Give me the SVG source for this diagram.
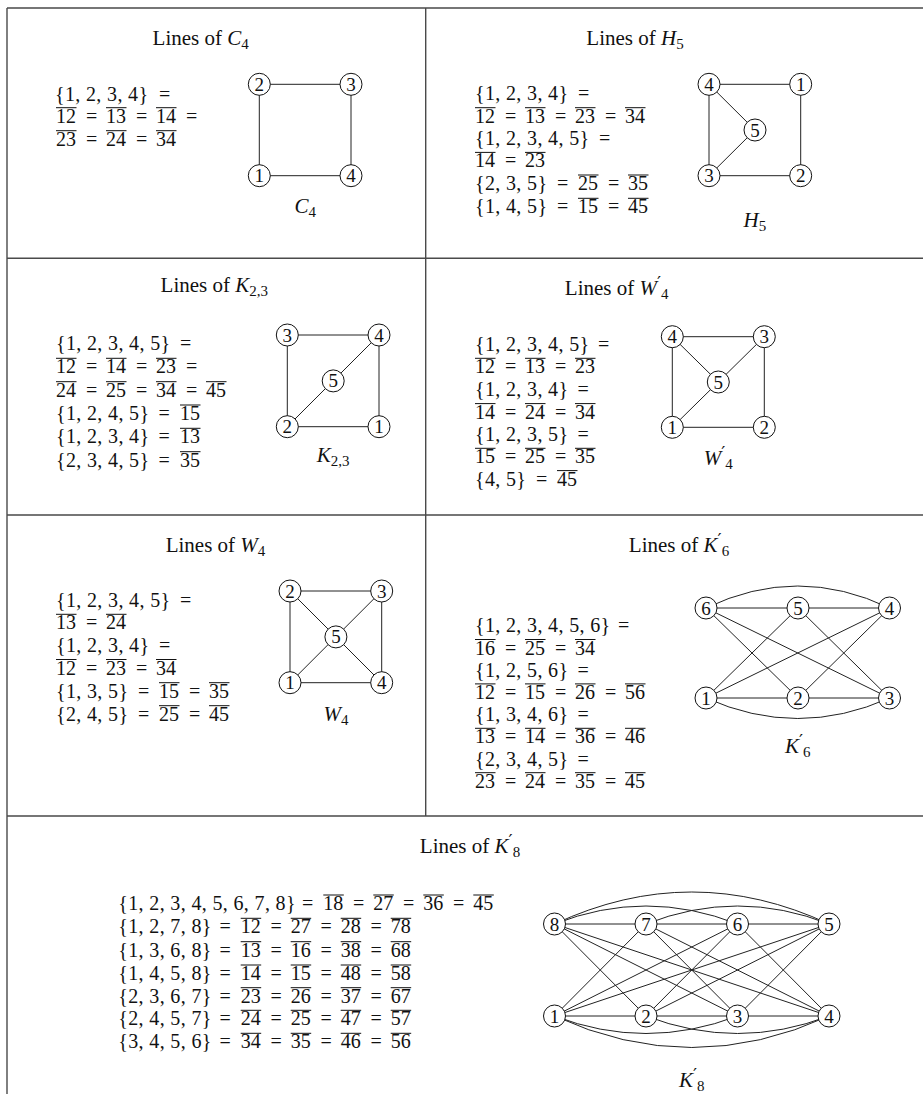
<svg xmlns="http://www.w3.org/2000/svg" width="923" height="1094" viewBox="0 0 923 1094">
<style>
text { font-family: "Liberation Serif", "Times New Roman", serif; font-size: 20px; fill: #111; }
.ttl { text-anchor: middle; font-size: 21px; }
.it { font-style: italic; }
.sub { font-size: 15px; }
.pr { font-family: "DejaVu Sans", sans-serif; font-size: 18px; }
.b { letter-spacing: 0.35px; }
.ol { stroke: #111; stroke-width: 1; fill: none; }
.e { stroke: #222; stroke-width: 1; fill: none; }
.n circle { fill: #fff; stroke: #111; stroke-width: 1; }
.n text { font-size: 19px; text-anchor: middle; }
.grid { stroke: #4a4a4a; stroke-width: 1.4; fill: none; }
</style>
<rect width="923" height="1094" fill="#fff"/>
<g id="table">
<path class="grid" d="M7 8H923M7 258.3H923M7 515H923M7 816H923M7 8V1094M425.7 8V816"/>
</g>

<!-- Cell C4 -->
<g id="cell-c4">
<text class="ttl" x="200.7" y="45">Lines of <tspan class="it">C</tspan><tspan class="sub" dy="4">4</tspan></text>
<text y="100.5"><tspan class="b" x="55">{1, 2, 3, 4}</tspan><tspan x="159">=</tspan></text>
<text y="122.7"><tspan x="56">12</tspan><tspan x="86">=</tspan><tspan x="106">13</tspan><tspan x="136">=</tspan><tspan x="156">14</tspan><tspan x="186">=</tspan></text>
<text y="145.7"><tspan x="56">23</tspan><tspan x="86">=</tspan><tspan x="106">24</tspan><tspan x="136">=</tspan><tspan x="156">34</tspan></text>
<path class="ol" d="M56 107.7h20.5M106 107.7h20.5M156 107.7h20.5M56 130.7h20.5M106 130.7h20.5M156 130.7h20.5"/>
<text class="ttl" x="305.2" y="213.3"><tspan class="it">C</tspan><tspan class="sub" dy="4">4</tspan></text>
</g>
<g id="c4-edges">
<path class="e" d="M259.3 84.3H351V175.7H259.3Z"/>
</g>
<g id="c4-n1" class="n"><circle cx="259.3" cy="175.7" r="11"/><text x="259.3" y="182.2">1</text></g>
<g id="c4-n2" class="n"><circle cx="259.3" cy="84.3" r="11"/><text x="259.3" y="90.8">2</text></g>
<g id="c4-n3" class="n"><circle cx="351" cy="84.3" r="11"/><text x="351" y="90.8">3</text></g>
<g id="c4-n4" class="n"><circle cx="351" cy="175.7" r="11"/><text x="351" y="182.2">4</text></g>

<!-- Cell H5 -->
<g id="cell-h5">
<text class="ttl" x="635" y="45">Lines of <tspan class="it">H</tspan><tspan class="sub" dy="4">5</tspan></text>
<text y="100.4"><tspan class="b" x="475">{1, 2, 3, 4}</tspan><tspan x="578">=</tspan></text>
<text y="122.7"><tspan x="475">12</tspan><tspan x="505">=</tspan><tspan x="525">13</tspan><tspan x="555">=</tspan><tspan x="575">23</tspan><tspan x="605">=</tspan><tspan x="625">34</tspan></text>
<text y="145.2"><tspan class="b" x="475">{1, 2, 3, 4, 5}</tspan><tspan x="599">=</tspan></text>
<text y="167.4"><tspan x="475">14</tspan><tspan x="505">=</tspan><tspan x="525">23</tspan></text>
<text y="190"><tspan class="b" x="475">{2, 3, 5}</tspan><tspan x="557">=</tspan><tspan x="578">25</tspan><tspan x="608">=</tspan><tspan x="628">35</tspan></text>
<text y="213.3"><tspan class="b" x="475">{1, 4, 5}</tspan><tspan x="557">=</tspan><tspan x="578">15</tspan><tspan x="608">=</tspan><tspan x="628">45</tspan></text>
<path class="ol" d="M475 107.7h20.5M525 107.7h20.5M575 107.7h20.5M625 107.7h20.5M475 152.4h20.5M525 152.4h20.5M578 175h20.5M628 175h20.5M578 198.3h20.5M628 198.3h20.5"/>
<text class="ttl" x="754.9" y="226.7"><tspan class="it">H</tspan><tspan class="sub" dy="4">5</tspan></text>
</g>
<g id="h5-edges">
<path class="e" d="M709 84.3H800.7V175.7H709ZM709 84.3L755 130L709 175.7"/>
</g>
<g id="h5-n1" class="n"><circle cx="800.7" cy="84.3" r="11"/><text x="800.7" y="90.8">1</text></g>
<g id="h5-n2" class="n"><circle cx="800.7" cy="175.7" r="11"/><text x="800.7" y="182.2">2</text></g>
<g id="h5-n3" class="n"><circle cx="709" cy="175.7" r="11"/><text x="709" y="182.2">3</text></g>
<g id="h5-n4" class="n"><circle cx="709" cy="84.3" r="11"/><text x="709" y="90.8">4</text></g>
<g id="h5-n5" class="n"><circle cx="755" cy="130" r="11"/><text x="755" y="136.5">5</text></g>

<!-- Cell K2,3 -->
<g id="cell-k23">
<text class="ttl" x="214.3" y="291.7">Lines of <tspan class="it">K</tspan><tspan class="sub" dy="4">2,3</tspan></text>
<text y="350"><tspan class="b" x="56">{1, 2, 3, 4, 5}</tspan><tspan x="180">=</tspan></text>
<text y="373.3"><tspan x="56">12</tspan><tspan x="86">=</tspan><tspan x="106">14</tspan><tspan x="136">=</tspan><tspan x="156">23</tspan><tspan x="186">=</tspan></text>
<text y="396.7"><tspan x="56">24</tspan><tspan x="86">=</tspan><tspan x="106">25</tspan><tspan x="136">=</tspan><tspan x="156">34</tspan><tspan x="186">=</tspan><tspan x="206">45</tspan></text>
<text y="420"><tspan class="b" x="56">{1, 2, 4, 5}</tspan><tspan x="158.5">=</tspan><tspan x="180">15</tspan></text>
<text y="443.3"><tspan class="b" x="56">{1, 2, 3, 4}</tspan><tspan x="158.5">=</tspan><tspan x="180">13</tspan></text>
<text y="466.7"><tspan class="b" x="56">{2, 3, 4, 5}</tspan><tspan x="158.5">=</tspan><tspan x="180">35</tspan></text>
<path class="ol" d="M56 358.3h20.5M106 358.3h20.5M156 358.3h20.5M56 381.7h20.5M106 381.7h20.5M156 381.7h20.5M206 381.7h20.5M180 405h20.5M180 428.3h20.5M180 451.7h20.5"/>
<text class="ttl" x="333.2" y="461.7"><tspan class="it">K</tspan><tspan class="sub" dy="4">2,3</tspan></text>
</g>
<g id="k23-edges">
<path class="e" d="M287.3 335H379V426.7H287.3ZM379 335L287.3 426.7"/>
</g>
<g id="k23-n1" class="n"><circle cx="379" cy="426.7" r="11"/><text x="379" y="433.2">1</text></g>
<g id="k23-n2" class="n"><circle cx="287.3" cy="426.7" r="11"/><text x="287.3" y="433.2">2</text></g>
<g id="k23-n3" class="n"><circle cx="287.3" cy="335" r="11"/><text x="287.3" y="341.5">3</text></g>
<g id="k23-n4" class="n"><circle cx="379" cy="335" r="11"/><text x="379" y="341.5">4</text></g>
<g id="k23-n5" class="n"><circle cx="333.2" cy="380.9" r="11"/><text x="333.2" y="387.4">5</text></g>

<!-- Cell W4' -->
<g id="cell-w4p">
<text class="ttl" x="616.7" y="295">Lines of <tspan class="it">W</tspan><tspan class="pr" dy="-6">′</tspan><tspan class="sub" dy="10">4</tspan></text>
<text y="351"><tspan class="b" x="475">{1, 2, 3, 4, 5}</tspan><tspan x="598">=</tspan></text>
<text y="373.3"><tspan x="475">12</tspan><tspan x="505">=</tspan><tspan x="525">13</tspan><tspan x="555">=</tspan><tspan x="575">23</tspan></text>
<text y="396.3"><tspan class="b" x="475">{1, 2, 3, 4}</tspan><tspan x="577.5">=</tspan></text>
<text y="418.6"><tspan x="475">14</tspan><tspan x="505">=</tspan><tspan x="525">24</tspan><tspan x="555">=</tspan><tspan x="575">34</tspan></text>
<text y="441"><tspan class="b" x="475">{1, 2, 3, 5}</tspan><tspan x="577.5">=</tspan></text>
<text y="463.3"><tspan x="475">15</tspan><tspan x="505">=</tspan><tspan x="525">25</tspan><tspan x="555">=</tspan><tspan x="575">35</tspan></text>
<text y="485.6"><tspan class="b" x="475">{4, 5}</tspan><tspan x="536">=</tspan><tspan x="557">45</tspan></text>
<path class="ol" d="M475 358.3h20.5M525 358.3h20.5M575 358.3h20.5M475 403.6h20.5M525 403.6h20.5M575 403.6h20.5M475 448.3h20.5M525 448.3h20.5M575 448.3h20.5M557 470.6h20.5"/>
<text class="ttl" x="718.3" y="465"><tspan class="it">W</tspan><tspan class="pr" dy="-6">′</tspan><tspan class="sub" dy="10">4</tspan></text>
</g>
<g id="w4p-edges">
<path class="e" d="M672.3 336.7H764.3V427.3H672.3ZM672.3 336.7L718.3 382M764.3 336.7L672.3 427.3"/>
</g>
<g id="w4p-n1" class="n"><circle cx="672.3" cy="427.3" r="11"/><text x="672.3" y="433.8">1</text></g>
<g id="w4p-n2" class="n"><circle cx="764.3" cy="427.3" r="11"/><text x="764.3" y="433.8">2</text></g>
<g id="w4p-n3" class="n"><circle cx="764.3" cy="336.7" r="11"/><text x="764.3" y="343.2">3</text></g>
<g id="w4p-n4" class="n"><circle cx="672.3" cy="336.7" r="11"/><text x="672.3" y="343.2">4</text></g>
<g id="w4p-n5" class="n"><circle cx="718.3" cy="382" r="11"/><text x="718.3" y="388.5">5</text></g>

<!-- Cell W4 -->
<g id="cell-w4">
<text class="ttl" x="215.5" y="551.7">Lines of <tspan class="it">W</tspan><tspan class="sub" dy="4">4</tspan></text>
<text y="606.7"><tspan class="b" x="56">{1, 2, 3, 4, 5}</tspan><tspan x="180">=</tspan></text>
<text y="629.3"><tspan x="56">13</tspan><tspan x="86">=</tspan><tspan x="106">24</tspan></text>
<text y="652.2"><tspan class="b" x="56">{1, 2, 3, 4}</tspan><tspan x="159">=</tspan></text>
<text y="674.5"><tspan x="56">12</tspan><tspan x="86">=</tspan><tspan x="106">23</tspan><tspan x="136">=</tspan><tspan x="156">34</tspan></text>
<text y="697.7"><tspan class="b" x="56">{1, 3, 5}</tspan><tspan x="138">=</tspan><tspan x="159">15</tspan><tspan x="189">=</tspan><tspan x="209">35</tspan></text>
<text y="720.7"><tspan class="b" x="56">{2, 4, 5}</tspan><tspan x="138">=</tspan><tspan x="159">25</tspan><tspan x="189">=</tspan><tspan x="209">45</tspan></text>
<path class="ol" d="M56 614.3h20.5M106 614.3h20.5M56 659.5h20.5M106 659.5h20.5M156 659.5h20.5M159 682.7h20.5M209 682.7h20.5M159 705.7h20.5M209 705.7h20.5"/>
<text class="ttl" x="336" y="720.7"><tspan class="it">W</tspan><tspan class="sub" dy="4">4</tspan></text>
</g>
<g id="w4-edges">
<path class="e" d="M290 591H381.7V682.7H290ZM290 591L381.7 682.7M381.7 591L290 682.7"/>
</g>
<g id="w4-n1" class="n"><circle cx="290" cy="682.7" r="11"/><text x="290" y="689.2">1</text></g>
<g id="w4-n2" class="n"><circle cx="290" cy="591" r="11"/><text x="290" y="597.5">2</text></g>
<g id="w4-n3" class="n"><circle cx="381.7" cy="591" r="11"/><text x="381.7" y="597.5">3</text></g>
<g id="w4-n4" class="n"><circle cx="381.7" cy="682.7" r="11"/><text x="381.7" y="689.2">4</text></g>
<g id="w4-n5" class="n"><circle cx="335.9" cy="636.9" r="11"/><text x="335.9" y="643.4">5</text></g>

<!-- Cell K6' -->
<g id="cell-k6p">
<text class="ttl" x="679" y="552.3">Lines of <tspan class="it">K</tspan><tspan class="pr" dy="-6">′</tspan><tspan class="sub" dy="10">6</tspan></text>
<text y="632.3"><tspan class="b" x="475">{1, 2, 3, 4, 5, 6}</tspan><tspan x="618">=</tspan></text>
<text y="654.5"><tspan x="475">16</tspan><tspan x="505">=</tspan><tspan x="525">25</tspan><tspan x="555">=</tspan><tspan x="575">34</tspan></text>
<text y="676.7"><tspan class="b" x="475">{1, 2, 5, 6}</tspan><tspan x="577.5">=</tspan></text>
<text y="698.9"><tspan x="475">12</tspan><tspan x="505">=</tspan><tspan x="525">15</tspan><tspan x="555">=</tspan><tspan x="575">26</tspan><tspan x="605">=</tspan><tspan x="625">56</tspan></text>
<text y="721.1"><tspan class="b" x="475">{1, 3, 4, 6}</tspan><tspan x="577.5">=</tspan></text>
<text y="743.3"><tspan x="475">13</tspan><tspan x="505">=</tspan><tspan x="525">14</tspan><tspan x="555">=</tspan><tspan x="575">36</tspan><tspan x="605">=</tspan><tspan x="625">46</tspan></text>
<text y="765.5"><tspan class="b" x="475">{2, 3, 4, 5}</tspan><tspan x="577.5">=</tspan></text>
<text y="787.7"><tspan x="475">23</tspan><tspan x="505">=</tspan><tspan x="525">24</tspan><tspan x="555">=</tspan><tspan x="575">35</tspan><tspan x="605">=</tspan><tspan x="625">45</tspan></text>
<path class="ol" d="M475 639.5h20.5M525 639.5h20.5M575 639.5h20.5M475 683.9h20.5M525 683.9h20.5M575 683.9h20.5M625 683.9h20.5M475 728.3h20.5M525 728.3h20.5M575 728.3h20.5M625 728.3h20.5M475 772.7h20.5M525 772.7h20.5M575 772.7h20.5M625 772.7h20.5"/>
<text class="ttl" x="797.7" y="753.3"><tspan class="it">K</tspan><tspan class="pr" dy="-6">′</tspan><tspan class="sub" dy="10">6</tspan></text>
</g>
<g id="k6p-edges">
<path class="e" d="M706 608H889.5M706 698H889.5M706 608Q797.75 564 889.5 608M706 698Q797.75 739 889.5 698M706 608L798 698M706 608L889.5 698M798 608L706 698M798 608L889.5 698M889.5 608L706 698M889.5 608L798 698"/>
</g>
<g id="k6p-n1" class="n"><circle cx="706" cy="698" r="11"/><text x="706" y="704.5">1</text></g>
<g id="k6p-n2" class="n"><circle cx="798" cy="698" r="11"/><text x="798" y="704.5">2</text></g>
<g id="k6p-n3" class="n"><circle cx="889.5" cy="698" r="11"/><text x="889.5" y="704.5">3</text></g>
<g id="k6p-n4" class="n"><circle cx="889.5" cy="608" r="11"/><text x="889.5" y="614.5">4</text></g>
<g id="k6p-n5" class="n"><circle cx="798" cy="608" r="11"/><text x="798" y="614.5">5</text></g>
<g id="k6p-n6" class="n"><circle cx="706" cy="608" r="11"/><text x="706" y="614.5">6</text></g>

<!-- Cell K8' -->
<g id="cell-k8p">
<text class="ttl" x="470" y="852.7">Lines of <tspan class="it">K</tspan><tspan class="pr" dy="-6">′</tspan><tspan class="sub" dy="10">8</tspan></text>
<text y="910"><tspan class="b" x="118.3">{1, 2, 3, 4, 5, 6, 7, 8}</tspan><tspan x="302">=</tspan><tspan x="323.3">18</tspan><tspan x="353">=</tspan><tspan x="373.3">27</tspan><tspan x="403">=</tspan><tspan x="423.3">36</tspan><tspan x="453">=</tspan><tspan x="473.3">45</tspan></text>
<text y="933.3"><tspan class="b" x="118.3">{1, 2, 7, 8}</tspan><tspan x="219.5">=</tspan><tspan x="240.7">12</tspan><tspan x="270.5">=</tspan><tspan x="290.7">27</tspan><tspan x="320.5">=</tspan><tspan x="340.7">28</tspan><tspan x="370.5">=</tspan><tspan x="390.7">78</tspan></text>
<text y="956.7"><tspan class="b" x="118.3">{1, 3, 6, 8}</tspan><tspan x="219.5">=</tspan><tspan x="240.7">13</tspan><tspan x="270.5">=</tspan><tspan x="290.7">16</tspan><tspan x="320.5">=</tspan><tspan x="340.7">38</tspan><tspan x="370.5">=</tspan><tspan x="390.7">68</tspan></text>
<text y="980"><tspan class="b" x="118.3">{1, 4, 5, 8}</tspan><tspan x="219.5">=</tspan><tspan x="240.7">14</tspan><tspan x="270.5">=</tspan><tspan x="290.7">15</tspan><tspan x="320.5">=</tspan><tspan x="340.7">48</tspan><tspan x="370.5">=</tspan><tspan x="390.7">58</tspan></text>
<text y="1002.7"><tspan class="b" x="118.3">{2, 3, 6, 7}</tspan><tspan x="219.5">=</tspan><tspan x="240.7">23</tspan><tspan x="270.5">=</tspan><tspan x="290.7">26</tspan><tspan x="320.5">=</tspan><tspan x="340.7">37</tspan><tspan x="370.5">=</tspan><tspan x="390.7">67</tspan></text>
<text y="1025.3"><tspan class="b" x="118.3">{2, 4, 5, 7}</tspan><tspan x="219.5">=</tspan><tspan x="240.7">24</tspan><tspan x="270.5">=</tspan><tspan x="290.7">25</tspan><tspan x="320.5">=</tspan><tspan x="340.7">47</tspan><tspan x="370.5">=</tspan><tspan x="390.7">57</tspan></text>
<text y="1048.3"><tspan class="b" x="118.3">{3, 4, 5, 6}</tspan><tspan x="219.5">=</tspan><tspan x="240.7">34</tspan><tspan x="270.5">=</tspan><tspan x="290.7">35</tspan><tspan x="320.5">=</tspan><tspan x="340.7">46</tspan><tspan x="370.5">=</tspan><tspan x="390.7">56</tspan></text>
<path class="ol" d="M323.3 895h20.5M373.3 895h20.5M423.3 895h20.5M473.3 895h20.5M240.7 918.3h20.5M290.7 918.3h20.5M340.7 918.3h20.5M390.7 918.3h20.5M240.7 941.7h20.5M290.7 941.7h20.5M340.7 941.7h20.5M390.7 941.7h20.5M240.7 965h20.5M290.7 965h20.5M340.7 965h20.5M390.7 965h20.5M240.7 987.7h20.5M290.7 987.7h20.5M340.7 987.7h20.5M390.7 987.7h20.5M240.7 1010.3h20.5M290.7 1010.3h20.5M340.7 1010.3h20.5M390.7 1010.3h20.5M240.7 1033.3h20.5M290.7 1033.3h20.5M340.7 1033.3h20.5M390.7 1033.3h20.5"/>
<text class="ttl" x="691.7" y="1087.3"><tspan class="it">K</tspan><tspan class="pr" dy="-6">′</tspan><tspan class="sub" dy="10">8</tspan></text>
</g>
<g id="k8p-edges">
<path class="e" d="M554.5 924H829M554.5 1016H829M554.5 924Q646 888 737.5 924M646 924Q737.5 888 829 924M554.5 924Q691.75 860 829 924M554.5 1016Q646 1051 737.5 1016M646 1016Q737.5 1051 829 1016M554.5 1016Q691.75 1079 829 1016"/>
<path class="e" d="M554.5 924L646 1016M554.5 924L737.5 1016M554.5 924L829 1016M646 924L554.5 1016M646 924L737.5 1016M646 924L829 1016M737.5 924L554.5 1016M737.5 924L646 1016M737.5 924L829 1016M829 924L554.5 1016M829 924L646 1016M829 924L737.5 1016"/>
</g>
<g id="k8p-n1" class="n"><circle cx="554.5" cy="1016" r="11"/><text x="554.5" y="1022.5">1</text></g>
<g id="k8p-n2" class="n"><circle cx="646" cy="1016" r="11"/><text x="646" y="1022.5">2</text></g>
<g id="k8p-n3" class="n"><circle cx="737.5" cy="1016" r="11"/><text x="737.5" y="1022.5">3</text></g>
<g id="k8p-n4" class="n"><circle cx="829" cy="1016" r="11"/><text x="829" y="1022.5">4</text></g>
<g id="k8p-n5" class="n"><circle cx="829" cy="924" r="11"/><text x="829" y="930.5">5</text></g>
<g id="k8p-n6" class="n"><circle cx="737.5" cy="924" r="11"/><text x="737.5" y="930.5">6</text></g>
<g id="k8p-n7" class="n"><circle cx="646" cy="924" r="11"/><text x="646" y="930.5">7</text></g>
<g id="k8p-n8" class="n"><circle cx="554.5" cy="924" r="11"/><text x="554.5" y="930.5">8</text></g>
</svg>
